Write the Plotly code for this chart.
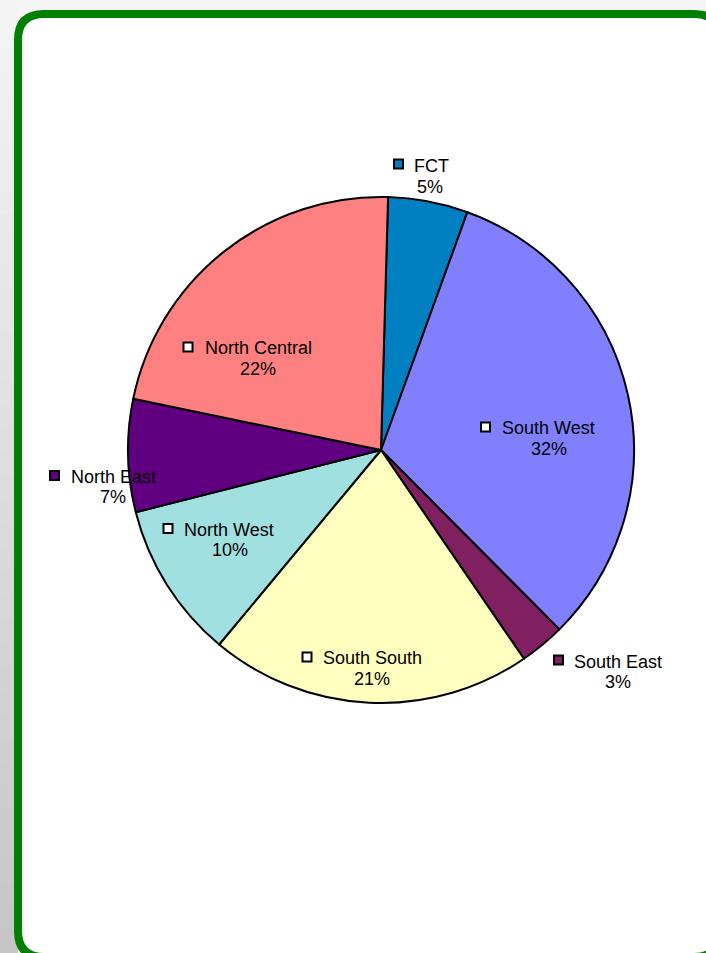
import plotly.graph_objects as go

# ---- data ----
regions = ["FCT", "South West", "South East", "South South", "North West", "North East", "North Central"]
shares = [5.1, 32.0, 2.9, 20.6, 10.0, 7.2, 22.2]
colors = ["#0080C0", "#8080FF", "#802060", "#FFFFC0", "#A0E0E0", "#600080", "#FF8080"]
label_outside = [True, False, True, False, False, True, False]

W, H = 706, 953
total = sum(shares)
pcts = [f"{round(v / total * 100)}%" for v in shares]

# label layout (pixels): square centre, name left edge / centre-y, pct centre
label_pos = {
    "FCT": (398.5, 164, 413, 166, 430, 187),
    "South West": (485.5, 427, 501, 428, 549, 449),
    "South East": (558.5, 660, 573, 661.5, 618, 681.5),
    "South South": (307, 657, 322, 657.5, 371.5, 678.5),
    "North West": (168, 528.5, 183, 529.5, 229.5, 550),
    "North East": (54.5, 475.5, 70, 476.5, 112.5, 497),
    "North Central": (188, 347, 204, 348, 258, 368.5),
}

def px(x):
    return x / W

def py(y):
    return 1 - y / H

cx, cy, r = 381, 450, 253

fig = go.Figure()
fig.add_trace(go.Pie(
    labels=regions, values=shares, sort=False, direction="clockwise", rotation=1.6,
    marker=dict(colors=colors, line=dict(color="black", width=2)),
    textinfo="none", hoverinfo="skip", showlegend=False,
    domain=dict(x=[px(cx - r), px(cx + r)], y=[py(cy + r), py(cy - r)]),
))

shapes = []
# left shadow gradient bands
n = 40
for i in range(n):
    t = i / (n - 1)
    g = int(round(0xF4 + (0xC6 - 0xF4) * t))
    col = f"rgb({g},{g},{g})"
    shapes.append(dict(type="rect", xref="paper", yref="paper", layer="below",
                       x0=0, x1=px(18), y0=py(H * (i + 1) / n + 1), y1=py(H * i / n),
                       fillcolor=col, line=dict(width=0)))

# rounded green frame
L, T, R, B, rad = 18, 14, 720, 957, 26
path = (f"M {px(L + rad)},{py(T)} L {px(R - rad)},{py(T)} Q {px(R)},{py(T)} {px(R)},{py(T + rad)} "
        f"L {px(R)},{py(B - rad)} Q {px(R)},{py(B)} {px(R - rad)},{py(B)} "
        f"L {px(L + rad)},{py(B)} Q {px(L)},{py(B)} {px(L)},{py(B - rad)} "
        f"L {px(L)},{py(T + rad)} Q {px(L)},{py(T)} {px(L + rad)},{py(T)} Z")
shapes.append(dict(type="path", xref="paper", yref="paper", layer="below", path=path,
                   fillcolor="white", line=dict(color="#008000", width=8)))

annotations = []
font = dict(family="Liberation Sans, Arial, sans-serif", size=18, color="black")
for name, pct, col, outside in zip(regions, pcts, colors, label_outside):
    sx, sy, nx, ny, pxx, pyy = label_pos[name]
    s = 4.5
    shapes.append(dict(type="rect", xref="paper", yref="paper", layer="above",
                       x0=px(sx - s), x1=px(sx + s), y0=py(sy + s), y1=py(sy - s),
                       fillcolor=col if outside else "white", line=dict(color="black", width=2)))
    annotations.append(dict(xref="paper", yref="paper", x=px(nx), y=py(ny), text=name,
                            showarrow=False, xanchor="left", yanchor="middle", font=font, borderpad=0))
    annotations.append(dict(xref="paper", yref="paper", x=px(pxx), y=py(pyy), text=pct,
                            showarrow=False, xanchor="center", yanchor="middle", font=font, borderpad=0))

fig.update_layout(width=W, height=H, autosize=False, margin=dict(l=0, r=0, t=0, b=0),
                  paper_bgcolor="#F5F5F5", plot_bgcolor="white",
                  shapes=shapes, annotations=annotations)
fig.write_html("out.html", config={"displayModeBar": False},
               post_script="document.body.style.margin='0';document.body.style.overflow='hidden';")
